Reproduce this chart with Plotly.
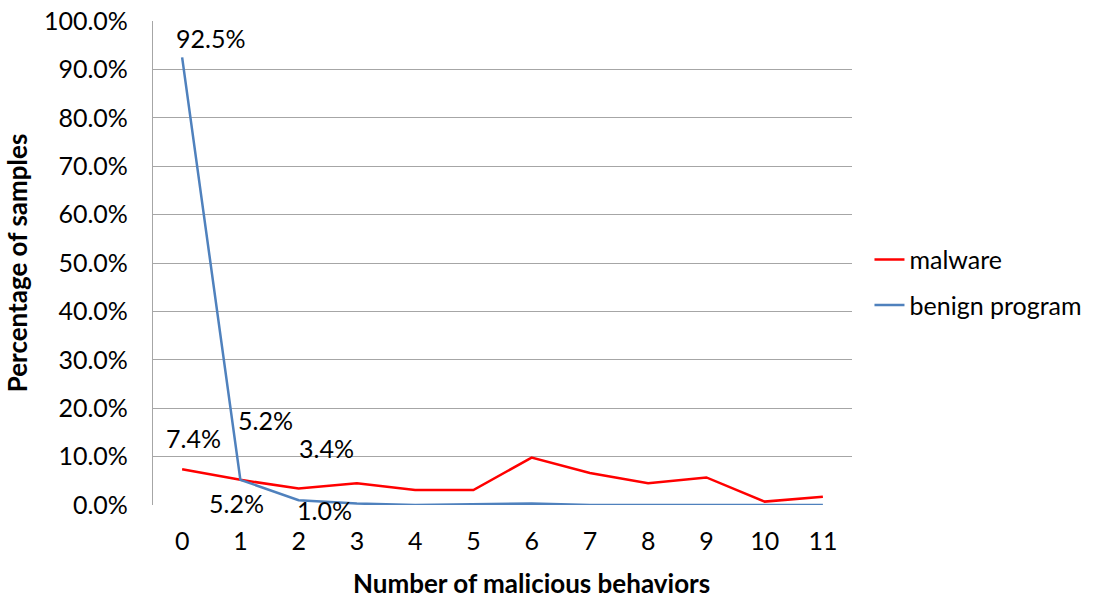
import plotly.graph_objects as go

# Number of malicious behaviors observed per sample
behaviors = list(range(12))
tick_labels = [str(b) for b in behaviors]

# Share of samples (%) exhibiting each count of malicious behaviors
malware_pct = [7.4, 5.2, 3.4, 4.5, 3.1, 3.1, 9.8, 6.6, 4.5, 5.7, 0.7, 1.7]
benign_pct = [92.5, 5.2, 1.0, 0.3, 0.0, 0.1, 0.3, 0.0, 0.0, 0.0, 0.0, 0.0]

y_ticks = [0, 10, 20, 30, 40, 50, 60, 70, 80, 90, 100]
y_tick_text = [f"{v:.1f}%" for v in y_ticks]

FONT = "Lato, Calibri, Open Sans, sans-serif"
FS = 25

fig = go.Figure()
fig.add_trace(go.Scatter(
    x=behaviors, y=malware_pct, mode="lines", name="malware",
    line=dict(color="#FF0000", width=2.5), legendgroup="m",
))
fig.add_trace(go.Scatter(
    x=behaviors, y=benign_pct, mode="lines", name="benign program",
    line=dict(color="#4F81BD", width=2.5), legendgroup="b",
))

# Data labels: (series values, index, x shift px, y shift px)
label_specs = [
    (benign_pct, 0, 28, 19),
    (malware_pct, 0, 11, 31),
    (benign_pct, 1, 25, 60),
    (malware_pct, 1, -4, -23),
    (malware_pct, 2, 28, 41),
    (benign_pct, 2, 26, -10),
]
for series, i, dx, dy in label_specs:
    fig.add_annotation(
        x=behaviors[i], y=series[i], text=f"{series[i]:.1f}%",
        showarrow=False, xshift=dx, yshift=dy,
        font=dict(family=FONT, size=FS, color="#000000"),
    )

# X-axis title, centred a little right of the plot area
fig.add_annotation(
    xref="paper", yref="paper", x=0.5, y=0, xshift=29, yshift=-78,
    yanchor="middle", text="<b>Number of malicious behaviors</b>",
    showarrow=False, font=dict(family=FONT, size=26, color="#000000"),
)

fig.update_layout(
    width=1105, height=599,
    margin=dict(l=153, r=253, t=21, b=94, autoexpand=False),
    paper_bgcolor="white", plot_bgcolor="white",
    font=dict(family=FONT, size=FS, color="#000000"),
    showlegend=True,
    legend=dict(
        x=1.025, xanchor="left", y=0.46, yanchor="middle",
        font=dict(family=FONT, size=FS, color="#000000"),
        tracegroupgap=10, itemwidth=30, bgcolor="rgba(0,0,0,0)",
    ),
    xaxis=dict(
        range=[-0.5, 11.5], tickmode="array", tickvals=behaviors,
        ticktext=tick_labels, showgrid=False, zeroline=False,
        showline=False, ticks="", ticklabelstandoff=19, automargin=False,
    ),
    yaxis=dict(
        range=[0, 100], tickmode="array", tickvals=y_ticks,
        ticktext=y_tick_text, showgrid=True, gridcolor="#A6A6A6",
        gridwidth=1.3, zeroline=False, showline=True, linecolor="#A6A6A6",
        linewidth=1.3, ticks="", ticklabelstandoff=19, automargin=False,
        title=dict(text="<b>Percentage of samples</b>", standoff=8,
                   font=dict(family=FONT, size=26)),
    ),
)

fig.write_html("out.html")
